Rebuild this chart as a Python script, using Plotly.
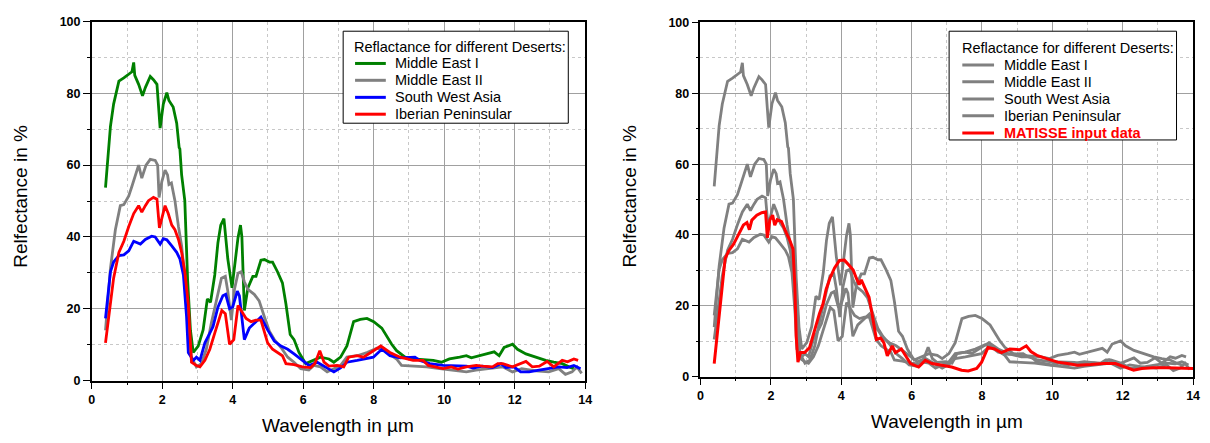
import plotly.graph_objects as go

# ---------------- data ----------------
me1_x = [0.39, 0.53, 0.62, 0.77, 0.91, 1.05, 1.14, 1.19, 1.22, 1.33, 1.44, 1.52, 1.66, 1.75, 1.85, 1.94,
         2.03, 2.13, 2.19, 2.31, 2.41, 2.48, 2.50, 2.55, 2.64, 2.72, 2.80, 2.88, 3.02, 3.16, 3.28, 3.37,
         3.49, 3.58, 3.66, 3.75, 3.86, 3.98, 4.07, 4.15, 4.22, 4.26, 4.33, 4.43, 4.57, 4.66, 4.80, 4.90,
         5.04, 5.13, 5.27, 5.41, 5.51, 5.63, 5.74, 5.88, 6.07, 6.26, 6.49, 6.73, 6.87, 7.06, 7.24, 7.43,
         7.62, 7.81, 8.00, 8.23, 8.51, 8.65, 8.89, 9.12, 9.40, 9.69, 9.92, 10.15, 10.44, 10.63, 10.77,
         11.00, 11.19, 11.42, 11.56, 11.70, 11.94, 12.08, 12.32, 12.60, 12.88, 13.11, 13.35, 13.54, 13.68]
me1_y = [53.7, 70.8, 77.0, 83.4, 84.3, 85.2, 86.0, 88.6, 85.0, 82.5, 79.3, 81.6, 84.7, 83.8, 82.5, 70.3,
         77.0, 80.2, 78.0, 76.2, 71.7, 64.9, 64.5, 57.3, 50.1, 28.0, 14.0, 7.8, 9.6, 14.1, 22.7, 21.8,
         29.4, 38.4, 43.3, 45.1, 33.9, 25.8, 32.6, 39.8, 43.3, 40.0, 19.5, 25.8, 29.0, 29.0, 33.5, 33.7,
         33.0, 33.0, 30.3, 27.2, 21.3, 12.8, 11.4, 7.8, 4.7, 5.6, 6.5, 6.0, 5.1, 6.5, 9.6, 16.4,
         17.0, 17.3, 16.4, 14.6, 10.1, 8.3, 6.5, 6.0, 5.8, 5.6, 5.1, 6.0, 6.5, 6.9, 6.3,
         6.9, 7.4, 8.0, 6.9, 9.2, 10.1, 8.7, 7.4, 6.5, 5.6, 5.1, 4.7, 3.8, 3.3]

me2_x = [0.39, 0.53, 0.67, 0.81, 0.91, 1.05, 1.14, 1.33, 1.42, 1.54, 1.66, 1.80, 1.87, 1.91, 1.99, 2.08,
         2.15, 2.19, 2.26, 2.36, 2.46, 2.55, 2.64, 2.74, 2.83, 2.97, 3.11, 3.25, 3.39, 3.58, 3.68, 3.79,
         3.86, 3.96, 4.05, 4.15, 4.24, 4.33, 4.43, 4.61, 4.75, 4.90, 5.04, 5.18, 5.37, 5.56, 5.74, 5.93,
         6.16, 6.30, 6.49, 6.68, 6.87, 7.06, 7.24, 7.53, 7.81, 8.09, 8.28, 8.65, 8.79, 9.12, 9.50, 9.87,
         10.25, 10.63, 10.90, 11.28, 11.66, 11.94, 12.20, 12.60, 12.97, 13.25, 13.44, 13.63, 13.77, 13.90]
me2_y = [14.0, 31.2, 42.0, 48.7, 49.0, 51.4, 54.1, 60.0, 56.4, 60.0, 61.6, 61.3, 60.0, 51.0, 55.5, 58.6,
         57.3, 54.6, 55.0, 50.1, 42.9, 37.5, 28.5, 15.0, 6.5, 3.8, 4.7, 8.7, 15.9, 24.0, 28.5, 29.0,
         24.9, 16.8, 25.4, 29.9, 30.3, 27.5, 25.4, 24.0, 22.2, 17.7, 13.7, 11.4, 9.2, 6.5, 5.1, 3.3,
         2.9, 4.2, 3.8, 2.4, 3.3, 4.2, 6.5, 6.9, 7.8, 9.0, 8.5, 6.0, 4.2, 4.0, 3.8, 3.3,
         2.9, 2.4, 2.9, 3.3, 3.8, 2.4, 3.3, 2.7, 2.4, 3.3, 1.7, 2.4, 3.8, 2.0]

swa_x = [0.39, 0.53, 0.62, 0.77, 0.91, 1.05, 1.19, 1.38, 1.52, 1.70, 1.80, 1.94, 2.03, 2.13, 2.27, 2.41,
         2.50, 2.60, 2.69, 2.74, 2.88, 2.97, 3.07, 3.21, 3.35, 3.44, 3.58, 3.72, 3.80, 3.91, 4.00, 4.13,
         4.19, 4.26, 4.33, 4.47, 4.61, 4.80, 4.99, 5.18, 5.37, 5.56, 5.74, 5.93, 6.16, 6.40, 6.63, 6.87,
         7.06, 7.24, 7.53, 7.81, 7.99, 8.23, 8.46, 8.75, 9.17, 9.31, 9.59, 9.97, 10.35, 10.63, 10.82,
         11.09, 11.37, 11.61, 11.75, 11.98, 12.17, 12.41, 12.69, 12.97, 13.25, 13.49, 13.68, 13.87]
swa_y = [17.3, 30.3, 33.0, 34.8, 35.0, 36.1, 38.8, 38.0, 39.3, 40.2, 40.0, 38.0, 39.5, 39.2, 37.5, 35.7,
         33.9, 29.4, 17.7, 7.8, 5.6, 6.5, 5.6, 10.5, 13.2, 15.0, 20.4, 23.6, 24.0, 20.0, 20.5, 24.9,
         23.6, 17.7, 11.4, 14.6, 15.9, 17.7, 14.1, 11.0, 9.6, 8.7, 7.4, 6.0, 4.2, 5.1, 3.8, 2.4,
         3.5, 5.1, 5.6, 6.2, 6.5, 8.7, 6.9, 6.3, 6.5, 5.6, 4.7, 4.2, 4.2, 4.0, 3.5,
         4.0, 3.6, 4.7, 3.6, 3.8, 2.4, 2.4, 2.9, 3.3, 3.8, 3.6, 4.2, 3.3]

ibp_x = [0.39, 0.48, 0.62, 0.77, 0.91, 1.05, 1.19, 1.33, 1.42, 1.52, 1.61, 1.75, 1.85, 1.92, 1.99, 2.08,
         2.17, 2.27, 2.36, 2.46, 2.55, 2.64, 2.74, 2.83, 2.97, 3.07, 3.21, 3.35, 3.49, 3.60, 3.69, 3.79,
         3.91, 4.03, 4.15, 4.24, 4.38, 4.52, 4.66, 4.80, 4.90, 4.99, 5.13, 5.27, 5.41, 5.51, 5.74, 5.98,
         6.21, 6.33, 6.47, 6.59, 6.73, 6.96, 7.15, 7.29, 7.53, 7.71, 7.95, 8.20, 8.46, 8.75, 9.12, 9.40,
         9.55, 9.78, 9.97, 10.20, 10.39, 10.63, 10.91, 11.09, 11.37, 11.52, 11.66, 11.94, 12.32, 12.50,
         12.70, 12.92, 13.11, 13.35, 13.50, 13.68, 13.80]
ibp_y = [10.5, 17.7, 28.5, 35.7, 38.8, 42.9, 46.5, 48.7, 46.9, 48.7, 50.1, 51.0, 50.5, 42.5, 45.6, 48.7,
         46.5, 43.3, 42.0, 39.3, 35.7, 30.3, 21.3, 5.1, 4.2, 3.8, 5.6, 8.7, 13.2, 16.8, 19.5, 18.6,
         10.1, 11.4, 20.9, 19.5, 17.3, 16.4, 16.8, 16.8, 13.7, 10.5, 8.7, 7.8, 6.9, 4.7, 4.4, 3.8,
         3.6, 4.7, 8.3, 5.1, 4.0, 4.2, 3.8, 6.5, 6.9, 6.5, 8.0, 9.6, 7.8, 6.5, 5.6, 5.6,
         4.2, 3.8, 3.3, 3.8, 3.2, 3.8, 4.2, 4.0, 3.8, 4.7, 4.7, 3.8, 5.3, 3.8,
         4.0, 5.3, 3.8, 5.6, 5.2, 6.0, 5.6]

mat_x = [0.39, 0.52, 0.61, 0.70, 0.80, 0.94, 1.08, 1.22, 1.32, 1.39, 1.46, 1.60, 1.74, 1.85, 1.90, 1.97,
         2.05, 2.11, 2.18, 2.30, 2.44, 2.53, 2.63, 2.68, 2.72, 2.77, 2.84, 2.96, 3.10, 3.24, 3.38, 3.48,
         3.57, 3.68, 3.81, 3.95, 4.09, 4.23, 4.34, 4.43, 4.51, 4.57, 4.70, 4.79, 4.89, 5.00, 5.12, 5.21,
         5.31, 5.45, 5.54, 5.71, 5.83, 5.97, 6.20, 6.39, 6.58, 6.86, 7.14, 7.42, 7.61, 7.85, 7.99, 8.17,
         8.36, 8.55, 8.79, 9.07, 9.26, 9.39, 9.58, 9.86, 10.15, 10.43, 10.71, 11.09, 11.46, 11.79, 12.07,
         12.31, 12.54, 12.87, 13.25, 13.63, 14.00]
mat_y = [3.7, 16.9, 26.0, 33.3, 35.5, 37.4, 40.1, 42.8, 43.5, 41.5, 44.2, 45.6, 46.3, 46.5, 39.2, 44.2,
         45.6, 42.8, 44.3, 43.8, 40.6, 38.7, 36.0, 26.0, 11.4, 4.1, 6.8, 6.8, 8.2, 13.2, 17.8, 20.5,
         24.6, 27.8, 30.7, 32.8, 32.9, 31.4, 30.1, 27.8, 26.0, 27.3, 24.2, 22.4, 16.9, 10.5, 10.9, 9.6,
         5.9, 8.7, 6.8, 7.8, 5.9, 3.7, 2.7, 4.6, 3.7, 3.2, 2.7, 1.8, 1.6, 2.3, 4.1, 8.2,
         7.8, 6.8, 7.8, 7.6, 8.7, 7.1, 5.9, 5.0, 4.1, 3.7, 3.2, 3.4, 3.7, 3.7, 2.7,
         1.8, 2.3, 2.5, 2.5, 2.5, 2.3]

desert_names = ["Middle East I", "Middle East II", "South West Asia", "Iberian Peninsular"]
desert_colors = ["#008000", "#808080", "#0000ff", "#ff0000"]
matisse_name = "MATISSE input data"
legend_title = "Reflactance for different Deserts:"
x_title = "Wavelength in µm"
y_title = "Relfectance in %"

# ---------------- figure ----------------
FONT = "Liberation Sans, Arial, sans-serif"
W, H = 1210, 443
LW = 2.8
fig = go.Figure()

series = [(me1_x, me1_y), (me2_x, me2_y), (swa_x, swa_y), (ibp_x, ibp_y)]
for (xs, ys), name, col in zip(series, desert_names, desert_colors):
    fig.add_trace(go.Scatter(x=xs, y=ys, mode="lines", name=name, showlegend=False,
                             line=dict(color=col, width=LW), xaxis="x", yaxis="y"))
for (xs, ys), name in zip(series, desert_names):
    fig.add_trace(go.Scatter(x=xs, y=ys, mode="lines", name=name, showlegend=False,
                             line=dict(color="#808080", width=LW), xaxis="x2", yaxis="y2"))
fig.add_trace(go.Scatter(x=mat_x, y=mat_y, mode="lines", name=matisse_name, showlegend=False,
                         line=dict(color="#ff0000", width=LW + 0.2), xaxis="x2", yaxis="y2"))

TICKFONT = dict(family=FONT, size=12.5, color="black", weight="bold")

def xax(domain, anchor):
    return dict(domain=domain, anchor=anchor, range=[0, 14], dtick=2, tick0=0,
                showline=True, linecolor="black", linewidth=1.5, mirror=True,
                ticks="outside", ticklen=7, tickwidth=1, tickcolor="black",
                showgrid=True, gridcolor="#a0a0a0", gridwidth=1, zeroline=False,
                tickfont=TICKFONT,
                minor=dict(dtick=1, ticks="outside", ticklen=3, tickcolor="black",
                           showgrid=True, gridcolor="#c8c8c8", griddash="dot", gridwidth=1))

def yax(domain, anchor):
    return dict(domain=domain, anchor=anchor, range=[0, 100], dtick=20, tick0=0,
                showline=True, linecolor="black", linewidth=1.5, mirror=True,
                ticks="outside", ticklen=7, tickwidth=1, tickcolor="black",
                showgrid=True, gridcolor="#a0a0a0", gridwidth=1, zeroline=False,
                tickfont=TICKFONT,
                minor=dict(dtick=10, ticks="outside", ticklen=3, tickcolor="black",
                           showgrid=True, gridcolor="#c8c8c8", griddash="dot", gridwidth=1))

lx0, lx1 = 89.5 / W, 587 / W
rx0, rx1 = 703.3 / W, 1200 / W
ly0, ly1 = 1 - 385.7 / H, 1 - 15 / H
ry0, ry1 = 1 - 381.7 / H, 1 - 16 / H

def px(x):
    return x / W

def py(y):
    return 1 - y / H

shapes = []
annotations = []
LEGFONT = 14.5

def add_legend(box, title_xy, line_x, text_x, item_ys, entries):
    x0, y0, x1, y1 = box
    shapes.append(dict(type="rect", xref="paper", yref="paper", layer="above",
                       x0=px(x0), x1=px(x1), y0=py(y1), y1=py(y0),
                       line=dict(color="black", width=1), fillcolor="white"))
    annotations.append(dict(text=legend_title, x=px(title_xy[0]), y=py(title_xy[1]),
                            xref="paper", yref="paper", showarrow=False,
                            xanchor="left", yanchor="middle",
                            font=dict(family=FONT, size=LEGFONT, color="black")))
    for yy, (label, col, bold) in zip(item_ys, entries):
        shapes.append(dict(type="line", xref="paper", yref="paper", layer="above",
                           x0=px(line_x[0]), x1=px(line_x[1]), y0=py(yy), y1=py(yy),
                           line=dict(color=col, width=3)))
        annotations.append(dict(text=f"<b>{label}</b>" if bold else label,
                                x=px(text_x), y=py(yy), xref="paper", yref="paper",
                                showarrow=False, xanchor="left", yanchor="middle",
                                font=dict(family=FONT, size=LEGFONT,
                                          color=col if bold else "black")))

add_legend((343, 25, 570, 120), (352, 41.7), (355, 386), 393,
           [58.3, 75.7, 93.3, 110.7],
           [(n, c, False) for n, c in zip(desert_names, desert_colors)])
add_legend((954, 25, 1183.3, 137.3), (965, 42.7), (967.3, 999.3), 1007,
           [60, 77.3, 95, 112.3, 130],
           [(n, "#808080", False) for n in desert_names] + [(matisse_name, "#ff0000", True)])

TITLEFONT = dict(family=FONT, size=19, color="black")
annotations += [
    dict(text=x_title, x=px((89.5 + 587) / 2), y=py(432), xref="paper", yref="paper",
         showarrow=False, xanchor="center", yanchor="middle", font=TITLEFONT),
    dict(text=x_title, x=px((703.3 + 1200) / 2), y=py(428), xref="paper", yref="paper",
         showarrow=False, xanchor="center", yanchor="middle", font=TITLEFONT),
    dict(text=y_title, x=px(18), y=py(195), xref="paper", yref="paper", textangle=-90,
         showarrow=False, xanchor="center", yanchor="middle", font=TITLEFONT),
    dict(text=y_title, x=px(632), y=py(195), xref="paper", yref="paper", textangle=-90,
         showarrow=False, xanchor="center", yanchor="middle", font=TITLEFONT),
]

fig.update_layout(
    width=W, height=H, margin=dict(l=0, r=0, t=0, b=0),
    paper_bgcolor="white", plot_bgcolor="white",
    font=dict(family=FONT, color="black"),
    showlegend=False,
    xaxis=xax([lx0, lx1], "y"), yaxis=yax([ly0, ly1], "x"),
    xaxis2=xax([rx0, rx1], "y2"), yaxis2=yax([ry0, ry1], "x2"),
    shapes=shapes, annotations=annotations,
)

fig.write_html("out.html")
